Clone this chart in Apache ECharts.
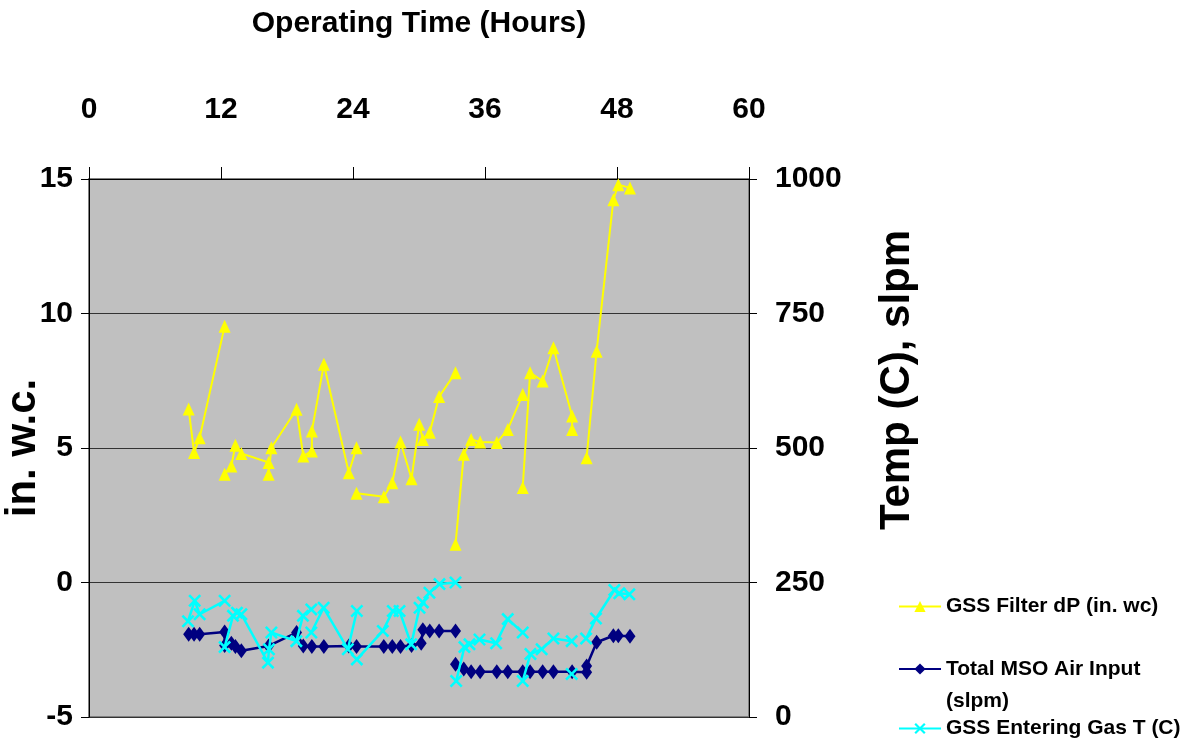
<!DOCTYPE html>
<html>
<head>
<meta charset="utf-8">
<script src="https://cdn.jsdelivr.net/npm/echarts@6/dist/echarts.min.js"></script>
<style>
  html, body { margin: 0; padding: 0; background: #fff; }
  #chart { width: 1195px; height: 748px; }
</style>
</head>
<body>
<div id="chart"></div>
<script>
// GSS Filter dP (in. w.c.) - left axis, null = gap in the line
const dpHours = [9.06, 9.55, 10.06, 12.33, 12.33, 12.33, 12.94, 13.31, 13.85, 16.33, 16.33, 16.58, 18.87, 19.48, 20.26, 20.26, 21.35,
    23.62, 24.32, 24.32, 24.32, 26.80, 27.57, 28.32, 29.32, 30.02, 30.35, 30.98, 31.83, 33.32, 33.32, 33.32,
    34.07, 34.74, 35.56, 37.07, 38.07, 39.43, 39.43, 39.43, 40.10, 41.24, 42.22, 43.92, 43.92, 43.92,
    45.24, 46.15, 47.67, 48.12, 49.18];
const dpValues = [6.45, 4.83, 5.38, 9.53, null, 4.02, 4.33, 5.10, 4.80, 4.46, 4.02, 5.01, 6.44, 4.70, 4.89, 5.63, 8.11,
    4.08, 5.01, null, 3.32, 3.19, 3.71, 5.22, 3.86, 5.88, 5.32, 5.59, 6.91, 7.80, null, 1.42,
    4.77, 5.32, 5.22, 5.20, 5.69, 6.99, null, 3.53, 7.80, 7.49, 8.73, 6.19, 5.69, null,
    4.64, 8.60, 14.23, 14.79, 14.67];

// Total MSO Air Input (slpm) - right axis
const airHours = [9.06, 9.55, 10.06, 12.33, 12.33, 12.94, 13.31, 13.85, 16.33, 18.87, 19.48, 20.26, 21.35, 23.62, 24.32,
    26.80, 27.57, 28.32, 29.32, 30.20, 30.35, 30.98, 31.83, 33.32, 33.32, 33.32, 34.07, 34.74, 35.56, 37.07,
    38.07, 39.43, 40.10, 41.24, 42.22, 43.92, 45.24, 45.24, 46.15, 47.67, 48.12, 49.18];
const airValues = [154, 154, 154, 158, 133, 137, 131, 123, 132, 157, 132, 131, 131, 132, 131,
    131, 131, 131, 133, 137, 162, 160, 160, 160, null, 98, 89, 84, 84, 84,
    84, 84, 84, 84, 84, 84, 83, 95, 139, 151, 151, 150];

// GSS Entering Gas T (C) - right axis
const gasHours = [9.00, 9.61, 10.06, 12.33, 12.33, 12.33, 13.09, 13.45, 13.85, 16.27, 16.36, 16.58, 18.85, 19.45, 20.21, 20.21, 20.21,
    21.33, 23.53, 24.35, 24.35, 24.35, 26.71, 27.62, 28.23, 29.29, 30.05, 30.35, 30.95, 31.86, 33.32, 33.32,
    33.38, 34.13, 34.59, 35.50, 37.01, 38.07, 39.43, 39.43, 39.43, 40.13, 41.15, 42.22, 43.88, 43.88, 43.88, 43.88,
    45.19, 46.09, 47.76, 48.21, 49.12];
const gasValues = [178, 216, 191, 216, null, 130, 188, 194, 191, 101, 126, 157, 141, 188, 200, null, 157,
    203, 126, 197, null, 107, 160, 197, 197, 135, 203, 213, 231, 247, 250, null,
    67, 130, 135, 144, 137, 182, 157, null, 67, 117, 126, 146, 141, null, 80, null,
    146, 183, 236, 230, 228];

const seriesNames = ['GSS Filter dP (in. wc)', 'Total MSO Air Input (slpm)', 'GSS Entering Gas T (C)'];

function pairs(hours, values) {
    return hours.map((h, i) => [h, values[i] === null ? '-' : values[i]]);
}

const font = 'Liberation Sans, Arial, sans-serif';
const xMark = 'path://M0,1.4L1.4,0L5,3.6L8.6,0L10,1.4L6.4,5L10,8.6L8.6,10L5,6.4L1.4,10L0,8.6L3.6,5Z';

const chart = echarts.init(document.getElementById('chart'), null, { renderer: 'canvas' });

const legendText = { color: '#000', fontFamily: font, fontWeight: 'bold', fontSize: 21 };

chart.setOption({
    animation: false,
    backgroundColor: '#fff',
    grid: {
        left: 89, right: 446, top: 179, bottom: 31,
        containLabel: false, outerBoundsMode: 'none',
        show: true, backgroundColor: '#C0C0C0', borderColor: '#808080', borderWidth: 2
    },
    xAxis: {
        type: 'value', position: 'top',
        min: 0, max: 60, interval: 12,
        name: 'Operating Time (Hours)', nameLocation: 'middle', nameGap: 140,
        nameTextStyle: { color: '#000', fontFamily: font, fontWeight: 'bold', fontSize: 30 },
        axisLine: { show: true, onZero: false, lineStyle: { color: '#000', width: 1 } },
        axisTick: { show: true, inside: false, length: 12, lineStyle: { color: '#000' } },
        axisLabel: { color: '#000', fontFamily: font, fontWeight: 'bold', fontSize: 30, margin: 54 },
        splitLine: { show: false }
    },
    yAxis: [
        {
            type: 'value', position: 'left',
            min: -5, max: 15, interval: 5,
            name: 'in. w.c.', nameLocation: 'middle', nameRotate: 90, nameGap: 45, nameMoveOverlap: false,
            nameTextStyle: { color: '#000', fontFamily: font, fontWeight: 'bold', fontSize: 42 },
            axisLine: { show: true, onZero: false, lineStyle: { color: '#000', width: 1 } },
            axisTick: { show: true, length: 8, lineStyle: { color: '#000' } },
            axisLabel: { color: '#000', fontFamily: font, fontWeight: 'bold', fontSize: 30, margin: 16 },
            splitLine: { show: true, lineStyle: { color: '#333', width: 1 } }
        },
        {
            type: 'value', position: 'right',
            min: 0, max: 1000, interval: 250,
            name: 'Temp (C), slpm', nameLocation: 'middle', nameRotate: 90, nameGap: 127,
            nameTextStyle: { color: '#000', fontFamily: font, fontWeight: 'bold', fontSize: 42, padding: [0, 0, 0, 136] },
            axisLine: { show: true, onZero: false, lineStyle: { color: '#000', width: 1 } },
            axisTick: { show: true, length: 8, lineStyle: { color: '#000' } },
            axisLabel: {
                color: '#000', fontFamily: font, fontWeight: 'bold', fontSize: 30, margin: 26,
                formatter: v => String(v)
            },
            splitLine: { show: false }
        }
    ],
    legend: [
        {
            data: [seriesNames[0]], orient: 'vertical', left: 893, top: 591,
            itemWidth: 42, itemHeight: 14, textStyle: legendText
        },
        {
            data: [seriesNames[1]], orient: 'vertical', left: 893, top: 616,
            itemWidth: 42, itemHeight: 14,
            formatter: () => '\nTotal MSO Air Input\n(slpm)',
            textStyle: Object.assign({}, legendText, { lineHeight: 32 })
        },
        {
            data: [seriesNames[2]], orient: 'vertical', left: 893, top: 713,
            itemWidth: 42, itemHeight: 14, textStyle: legendText
        }
    ],
    series: [
        {
            name: seriesNames[0], type: 'line', yAxisIndex: 0,
            data: pairs(dpHours, dpValues),
            symbol: 'triangle', symbolSize: [12, 13], showAllSymbol: true,
            itemStyle: { color: '#FFFF00' },
            lineStyle: { color: '#FFFF00', width: 2 },
            z: 3
        },
        {
            name: seriesNames[1], type: 'line', yAxisIndex: 1,
            data: pairs(airHours, airValues),
            symbol: 'diamond', symbolSize: [11, 15], showAllSymbol: true,
            itemStyle: { color: '#000080' },
            lineStyle: { color: '#000080', width: 2.5 },
            z: 2
        },
        {
            name: seriesNames[2], type: 'line', yAxisIndex: 1,
            data: pairs(gasHours, gasValues),
            symbol: xMark, symbolSize: 13, showAllSymbol: true,
            itemStyle: { color: '#00FFFF' },
            lineStyle: { color: '#00FFFF', width: 2.5 },
            z: 4
        }
    ]
});
</script>
</body>
</html>
